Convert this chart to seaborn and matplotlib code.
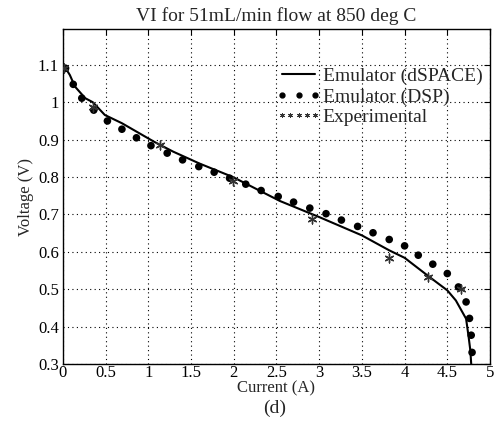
import numpy as np
import pandas as pd
import matplotlib
matplotlib.use("Agg")
import matplotlib.pyplot as plt
import seaborn as sns
from matplotlib.lines import Line2D
from matplotlib.legend_handler import HandlerLine2D

# Emulator (dSPACE) - solid line
line_I = [0.00, 0.02, 0.08, 0.14, 0.26, 0.35, 0.49, 0.69, 1.07, 1.29, 1.60, 1.99,
          2.54, 3.00, 3.50, 3.82, 4.00, 4.29, 4.50, 4.60, 4.72, 4.75, 4.77, 4.78]
line_V = [1.098, 1.095, 1.073, 1.042, 1.011, 1.000, 0.966, 0.944, 0.894, 0.868, 0.836, 0.800,
          0.736, 0.693, 0.644, 0.604, 0.584, 0.533, 0.497, 0.470, 0.421, 0.372, 0.336, 0.300]

# Emulator (DSP) - dots
dsp_I = [0.03, 0.12, 0.22, 0.36, 0.52, 0.69, 0.86, 1.03, 1.22, 1.40, 1.59, 1.77, 1.95, 2.14,
         2.32, 2.52, 2.70, 2.89, 3.08, 3.26, 3.45, 3.63, 3.82, 4.00, 4.16, 4.33, 4.50, 4.63,
         4.72, 4.76, 4.78, 4.79]
dsp_V = [1.091, 1.048, 1.011, 0.979, 0.950, 0.928, 0.905, 0.884, 0.864, 0.846, 0.828, 0.813,
         0.797, 0.781, 0.764, 0.748, 0.733, 0.717, 0.702, 0.685, 0.668, 0.651, 0.633, 0.616,
         0.591, 0.567, 0.542, 0.506, 0.466, 0.422, 0.377, 0.331]

# Experimental - asterisks
exp_I = [0.01, 0.35, 1.14, 1.99, 2.91, 3.82, 4.27, 4.66]
exp_V = [1.092, 0.988, 0.887, 0.790, 0.688, 0.584, 0.534, 0.500]

x_ticks = [0, 0.5, 1, 1.5, 2, 2.5, 3, 3.5, 4, 4.5, 5]
x_ticklabels = ["0", "0.5", "1", "1.5", "2", "2.5", "3", "3.5", "4", "4.5", "5"]
y_ticks = [0.3, 0.4, 0.5, 0.6, 0.7, 0.8, 0.9, 1.0, 1.1]
y_ticklabels = ["0.3", "0.4", "0.5", "0.6", "0.7", "0.8", "0.9", "1", "1.1"]

sns.set_style("white")
plt.rcParams['font.family'] = ['Liberation Serif', 'DejaVu Serif']

fig = plt.figure(figsize=(5.02, 4.32), dpi=100)
ax = fig.add_axes([63/502, 1-364/432, (490-63)/502, (364-29)/432])

df_line = pd.DataFrame({"I": line_I, "V": line_V})
df_dsp = pd.DataFrame({"I": dsp_I, "V": dsp_V})
df_exp = pd.DataFrame({"I": exp_I, "V": exp_V})

sns.lineplot(data=df_line, x="I", y="V", ax=ax, color="black", lw=1.5, sort=False, zorder=3)
sns.scatterplot(data=df_dsp, x="I", y="V", ax=ax, color="black", s=30, edgecolor="none", zorder=4)
sns.scatterplot(data=df_exp, x="I", y="V", ax=ax, marker=(6, 2, 0), color="#333333", s=40,
                linewidth=1.0, zorder=5)

ax.set_xlim(0, 5)
ax.set_ylim(0.3, 1.196)
ax.set_xticks(x_ticks)
ax.set_xticklabels(x_ticklabels)
ax.set_yticks(y_ticks)
ax.set_yticklabels(y_ticklabels)
ax.grid(True, color="black", linestyle=(0, (1, 3)), linewidth=0.8)
ax.tick_params(direction="in", length=4, width=0.8, top=True, right=True, labelsize=12,
               colors="black")
ax.tick_params(axis="x", pad=1)
ax.tick_params(axis="y", pad=3)
for sp in ax.spines.values():
    sp.set_color("black")
    sp.set_linewidth(1.0)

ax.set_xlabel("Current (A)", fontsize=12, labelpad=-1)
ax.set_ylabel("Voltage (V)", fontsize=12, labelpad=3)
ax.set_title("VI for 51mL/min flow at 850 deg C", fontsize=14, pad=6)
fig.text(0.548, 1-408/432, "(d)", ha="center", va="center", fontsize=14)

h1 = Line2D([], [], color="black", lw=1.5)
h2 = Line2D([], [], color="black", lw=0, marker="o", markersize=3.5)
h3 = Line2D([], [], color="#333333", lw=0, marker=(6, 2, 0), markersize=3.5, markeredgewidth=0.7)
ax.legend([h1, h2, h3], ["Emulator (dSPACE)", "Emulator (DSP)", "Experimental"],
          loc="upper right", bbox_to_anchor=(1.01, 0.92), frameon=False, fontsize=14,
          handlelength=2.3, handletextpad=0.1, labelspacing=0.15, borderaxespad=0.2,
          handler_map={h1: HandlerLine2D(numpoints=2), h2: HandlerLine2D(numpoints=3),
                       h3: HandlerLine2D(numpoints=5)})

fig.savefig("out.png", dpi=100)
